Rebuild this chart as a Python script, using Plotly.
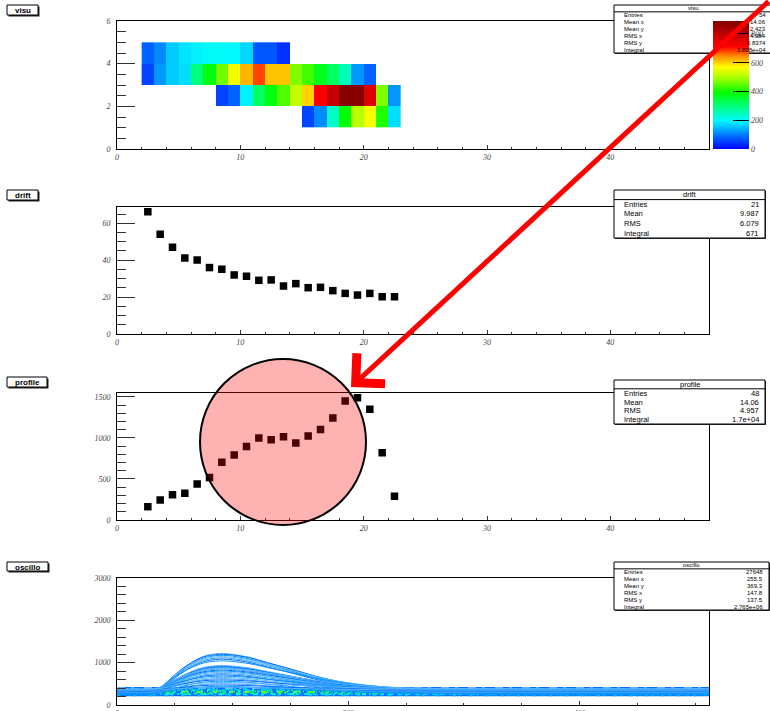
import plotly.graph_objects as go

W, H = 770, 711


def px(x):
    return x / W


def py(y):
    return 1 - y / H


# ---------------- data ----------------
# visu (2D histogram): each row = (y-bin lower edge, first x-bin lower edge, cell values)
visu_x_edges = list(range(2, 24))
visu_y_edges = [1, 2, 3, 4, 5]
visu_row1_start = 15
visu_row1 = [55, 110, 240, 390, 510, 560, 410, 175]
visu_row2_start = 8
visu_row2 = [55, 80, 190, 320, 380, 440, 520, 600, 720, 790, 880, 880, 760, 470, 120]
visu_row3_start = 2
visu_row3 = [55, 120, 160, 175, 300, 380, 460, 560, 620, 680, 610, 610, 470, 430, 370,
             320, 250, 120, 80]
visu_row4_start = 2
visu_row4 = [80, 110, 160, 180, 190, 200, 200, 195, 170, 70, 70, 40]
visu_zmax = 890
visu_cbar_ticks = [0, 200, 400, 600, 800]

# drift / profile (1D histograms drawn as markers)
bin_x = [2.5, 3.5, 4.5, 5.5, 6.5, 7.5, 8.5, 9.5, 10.5, 11.5, 12.5, 13.5, 14.5, 15.5,
         16.5, 17.5, 18.5, 19.5, 20.5, 21.5, 22.5]
drift_y = [66.3, 54.0, 47.0, 41.2, 40.1, 36.0, 35.1, 32.0, 31.3, 29.1, 29.3, 26.0, 27.3,
           25.1, 25.3, 23.5, 22.0, 21.1, 22.0, 20.2, 20.2]
profile_y = [162, 243, 308, 325, 438, 519, 702, 791, 896, 997, 977, 1013, 937, 1022, 1103,
             1241, 1448, 1488, 1350, 819, 288]

# oscillo: pulse shape (fraction of amplitude above baseline)
osc_x = [0, 30, 38, 45, 55, 65, 75, 85, 92, 100, 115, 130, 150, 170, 190, 210, 230, 250,
         280, 320, 512]
osc_shape = [0, 0, 0.10, 0.30, 0.57, 0.78, 0.93, 0.99, 1.0, 0.98, 0.90, 0.77, 0.60, 0.42,
             0.27, 0.17, 0.10, 0.05, 0.02, 0, 0]
osc_peaks = [1210, 1195, 1170, 1140, 1110, 1080, 1040, 930, 915, 900, 885, 870, 850, 820,
             800, 770, 740, 710, 680, 650, 620, 590, 560, 530, 500, 470, 440, 420]
osc_bases = [300, 330, 270, 350, 310, 280, 360, 320, 290, 340, 260, 380, 300, 330, 270,
             350, 310, 280, 360, 320, 290, 340, 260, 380, 300, 330, 270, 350]
osc_band_x = [0, 512]
osc_band_low = [205, 205]
osc_band_high = [425, 425]
osc_band_lines = [225, 245, 262, 278, 292, 305, 318, 332, 346, 362, 380, 400]
osc_band_colors = ["rgb(0,170,255)", "rgb(0,230,255)", "rgb(0,255,200)", "rgb(0,255,140)",
                   "rgb(60,255,60)", "rgb(0,255,200)", "rgb(120,255,0)", "rgb(0,230,255)",
                   "rgb(0,255,140)", "rgb(0,200,255)", "rgb(0,230,255)", "rgb(140,200,255)"]
osc_band_dashes = ["3px,5px,1px,7px", "2px,9px,4px,3px", "5px,4px,2px,6px",
                   "1px,6px,3px,4px", "4px,3px,1px,8px", "2px,7px,2px,3px",
                   "6px,4px,1px,5px", "2px,5px,3px,9px", "3px,6px,2px,4px",
                   "1px,8px,5px,3px", "4px,5px,2px,7px", "8px,6px,3px,10px"]

stats = {
    "visu": (["Entries", "Mean x", "Mean y", "RMS x", "RMS y", "Integral"],
             ["54", "14.06", "2.423", "4.984", "0.8374", "1.808e+04"]),
    "drift": (["Entries", "Mean", "RMS", "Integral"], ["21", "9.987", "6.079", "671"]),
    "profile": (["Entries", "Mean", "RMS", "Integral"], ["48", "14.06", "4.957", "1.7e+04"]),
    "oscillo": (["Entries", "Mean x", "Mean y", "RMS x", "RMS y", "Integral"],
                ["27648", "255.5", "369.3", "147.8", "137.5", "2.765e+06"]),
}

# ---------------- figure ----------------
fig = go.Figure()

z = [[None] * (len(visu_x_edges) - 1) for _ in range(len(visu_y_edges) - 1)]
for r, (start, vals) in enumerate([(visu_row1_start, visu_row1), (visu_row2_start, visu_row2),
                                   (visu_row3_start, visu_row3), (visu_row4_start, visu_row4)]):
    for i, v in enumerate(vals):
        z[r][start - visu_x_edges[0] + i] = v

cscale = [[0.0, "rgb(0,0,255)"], [0.1, "rgb(0,110,255)"], [0.22, "rgb(0,250,255)"],
          [0.33, "rgb(0,255,130)"], [0.44, "rgb(0,255,0)"], [0.55, "rgb(160,255,0)"],
          [0.64, "rgb(255,255,0)"], [0.72, "rgb(255,150,0)"], [0.8, "rgb(255,0,0)"],
          [0.9, "rgb(190,0,0)"], [1.0, "rgb(128,0,0)"]]

tickfont = dict(family="Liberation Serif", size=8, color="#444", style="italic")

fig.add_trace(go.Heatmap(
    x=visu_x_edges, y=visu_y_edges, z=z, xaxis="x", yaxis="y",
    colorscale=cscale, zmin=0, zmax=visu_zmax, hoverongaps=False,
    colorbar=dict(x=px(713), xanchor="left", xpad=0, y=py(149), yanchor="bottom", ypad=0,
                  len=128 / H, lenmode="fraction", thickness=36, thicknessmode="pixels",
                  outlinewidth=0, tickvals=visu_cbar_ticks, ticks="inside", ticklen=16,
                  tickcolor="black", tickwidth=1, tickfont=tickfont),
))

fig.add_trace(go.Scatter(x=bin_x, y=drift_y, mode="markers", xaxis="x2", yaxis="y2",
                         marker=dict(symbol="square", size=7.5, color="black")))
fig.add_trace(go.Scatter(x=bin_x, y=profile_y, mode="markers", xaxis="x3", yaxis="y3",
                         marker=dict(symbol="square", size=7.5, color="black")))

# oscillo band
fig.add_trace(go.Scatter(x=osc_band_x, y=osc_band_low, mode="lines", xaxis="x4", yaxis="y4",
                         line=dict(width=0, color="rgb(0,110,255)")))
fig.add_trace(go.Scatter(x=osc_band_x, y=osc_band_high, mode="lines", xaxis="x4", yaxis="y4",
                         fill="tonexty", fillcolor="rgb(0,110,255)",
                         line=dict(width=0, color="rgb(0,110,255)")))
for lvl, col, dash in zip(osc_band_lines, osc_band_colors, osc_band_dashes):
    fig.add_trace(go.Scatter(x=osc_band_x, y=[lvl, lvl], mode="lines", xaxis="x4", yaxis="y4",
                             line=dict(width=1.5, color=col, dash=dash)))
pulse_colors = ["rgb(60,160,255)", "rgb(0,110,255)", "rgb(0,150,255)", "rgb(90,180,255)"]
for k, (pk, base) in enumerate(zip(osc_peaks, osc_bases)):
    amp = pk - base
    fig.add_trace(go.Scatter(x=osc_x, y=[base + amp * s for s in osc_shape], mode="lines",
                             xaxis="x4", yaxis="y4", line=dict(width=1, shape="spline",
                                                               color=pulse_colors[k % 4])))


def axis(domain, rng, dtick, minor, ticklen, minorlen, anchor):
    return dict(domain=domain, range=rng, dtick=dtick, tick0=0, ticks="inside",
                ticklen=ticklen, tickcolor="#333", tickwidth=1, showgrid=False,
                zeroline=False, showline=True, linecolor="black", linewidth=1, mirror=True,
                tickfont=tickfont, anchor=anchor, automargin=False,
                minor=dict(dtick=minor, tick0=0, ticks="inside", ticklen=minorlen,
                           tickcolor="#333", showgrid=False))


xdom = [px(117), px(709)]
panels = [  # (top px, bottom px)
    (21, 149), (206.7, 334), (392.7, 520), (577.7, 705)]
ydoms = [[py(b), py(t)] for t, b in panels]

layout = dict(width=W, height=H, margin=dict(l=0, r=0, t=0, b=0, autoexpand=False),
              showlegend=False, paper_bgcolor="white", plot_bgcolor="white")
layout["xaxis"] = axis(xdom, [0, 48], 10, 2, 4, 2, "y")
layout["yaxis"] = axis(ydoms[0], [0, 6], 2, 0.5, 18, 9, "x")
layout["xaxis2"] = axis(xdom, [0, 48], 10, 2, 4, 2, "y2")
layout["yaxis2"] = axis(ydoms[1], [0, 69], 20, 5, 18, 9, "x2")
layout["xaxis3"] = axis(xdom, [0, 48], 10, 2, 4, 2, "y3")
layout["yaxis3"] = axis(ydoms[2], [0, 1550], 500, 100, 18, 9, "x3")
layout["xaxis4"] = axis(xdom, [0, 512], 200, 50, 4, 2, "y4")
layout["yaxis4"] = axis(ydoms[3], [0, 3000], 1000, 200, 18, 9, "x4")
for k in ["yaxis", "yaxis2", "yaxis3", "yaxis4"]:
    layout[k]["ticklabelstandoff"] = 4
fig.update_layout(**layout)

shapes = []
annotations = []


def rect(x0, y0, x1, y1, fill="white", lw=1, lc="black"):
    shapes.append(dict(type="rect", xref="paper", yref="paper", x0=px(x0), x1=px(x1),
                       y0=py(y1), y1=py(y0), fillcolor=fill, layer="above",
                       line=dict(color=lc, width=lw)))


def hline(x0, x1, y):
    shapes.append(dict(type="line", xref="paper", yref="paper", x0=px(x0), x1=px(x1),
                       y0=py(y), y1=py(y), layer="above", line=dict(color="black", width=1)))


def text(x, y, s, anchor, size, bold=False):
    annotations.append(dict(xref="paper", yref="paper", x=px(x), y=py(y), text=s,
                            showarrow=False, xanchor=anchor, yanchor="middle",
                            font=dict(family="Liberation Sans", size=size, color="black",
                                      weight="bold" if bold else "normal")))


# pad labels
for name, (x0, y0, x1, y1) in {"visu": (7, 5, 38, 15), "drift": (7, 190, 38, 200),
                               "profile": (7, 377, 47, 387), "oscillo": (7, 562, 48, 571)}.items():
    rect(x0 + 1.5, y0 + 1.5, x1 + 1.5, y1 + 1.5, fill="#222", lw=0, lc="#222")
    rect(x0, y0, x1, y1)
    text((x0 + x1) / 2, (y0 + y1) / 2 + 0.5, name, "center", 8, bold=True)

# stats boxes
for name, (x0, y0, x1, y1, fs) in {"visu": (614, 5, 772, 53, 6),
                                   "drift": (614, 190, 765, 238, 7.5),
                                   "profile": (614, 380, 765, 424, 7.5),
                                   "oscillo": (614, 562, 769, 610, 6)}.items():
    labels, values = stats[name]
    n = len(labels) + 1
    h = (y1 - y0) / n
    rect(x0 + 1, y0 + 1, x1 + 1, y1 + 1, fill="#333", lw=0, lc="#333")
    rect(x0, y0, x1, y1)
    hline(x0, x1, y0 + h)
    text((x0 + x1) / 2, y0 + h / 2, name, "center", fs)
    right = x1 - 4 if x1 < 770 else 768
    for i, (lab, val) in enumerate(zip(labels, values)):
        yc = y0 + h * (i + 1.5)
        text(x0 + 8, yc, lab, "left", fs)
        text(right, yc, val, "right", fs)

# circle highlight on profile
shapes.append(dict(type="circle", xref="paper", yref="paper", x0=px(200), x1=px(366),
                   y0=py(525), y1=py(359), fillcolor="rgba(255,0,0,0.3)", layer="above",
                   line=dict(color="black", width=2)))

# red arrow
annotations.append(dict(xref="paper", yref="paper", x=px(351), y=py(387), text="",
                        showarrow=True, ax=426, ay=-398, arrowcolor="red", arrowwidth=5,
                        arrowhead=4, arrowsize=1.6))

fig.update_layout(shapes=shapes, annotations=annotations)
fig.write_html("out.html", config={"displayModeBar": False},
               post_script="document.body.style.margin='0';"
                           "document.body.style.overflow='hidden';")
